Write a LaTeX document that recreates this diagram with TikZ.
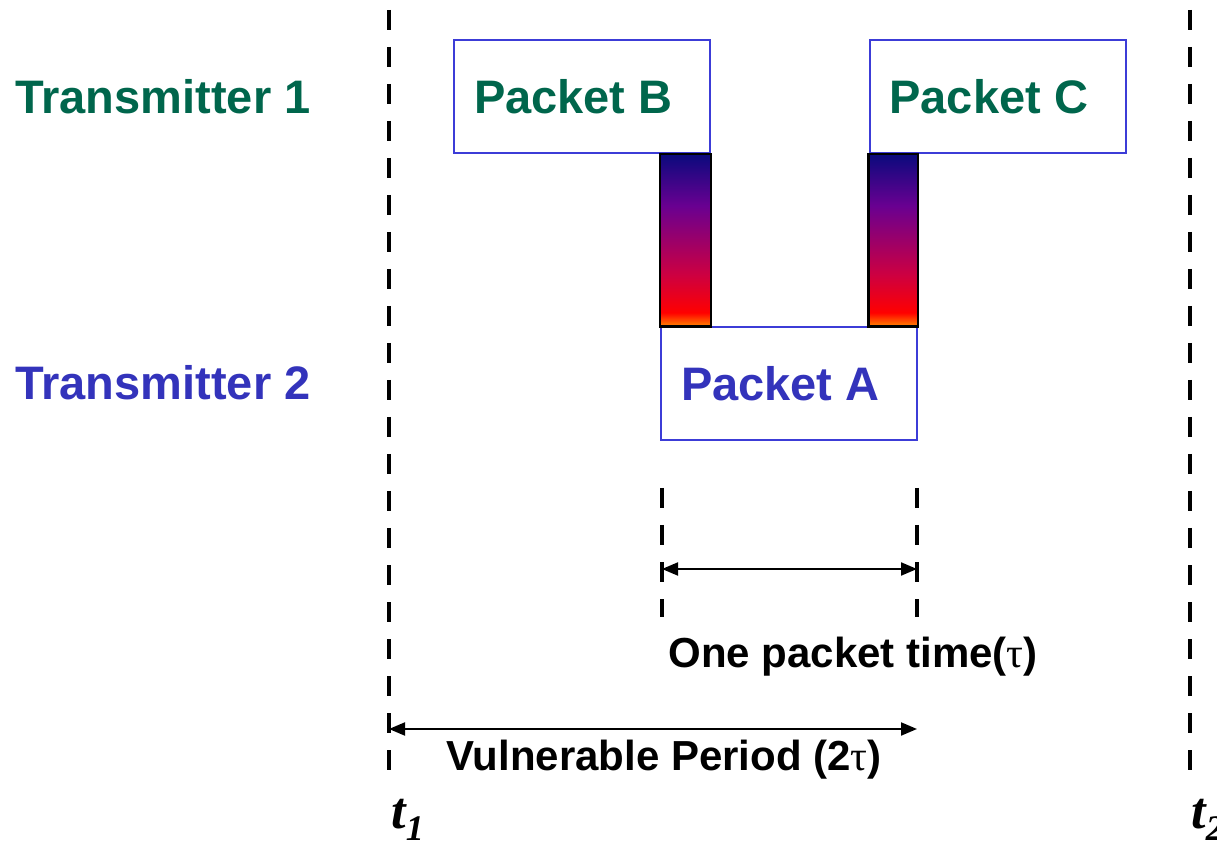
\documentclass[tikz,border=0pt]{standalone}
\usepackage{fontspec}
\setmainfont{Liberation Sans}
\newfontfamily\timesfont{Liberation Serif}
\usetikzlibrary{arrows.meta}
\definecolor{txgreen}{RGB}{0, 102, 76}
\definecolor{txblue}{RGB}{51, 51, 187}
\definecolor{boxblue}{RGB}{60, 60, 215}
\definecolor{barnavy}{RGB}{10, 10, 125}
\definecolor{barpurple}{RGB}{105, 0, 145}
\definecolor{barplum}{RGB}{155, 0, 105}
\definecolor{barcrimson}{RGB}{205, 0, 65}
\definecolor{barorange}{RGB}{255, 135, 0}
% collision bar: orange at the bottom, navy at the top
\pgfdeclareverticalshading{overlap}{100bp}{color(0bp)=(barorange); color(25bp)=(barorange); color(29bp)=(red); color(40bp)=(barcrimson); color(50bp)=(barplum); color(60bp)=(barpurple); color(75bp)=(barnavy); color(100bp)=(barnavy)}
\newcommand{\tauglyph}{{\timesfont\mdseries τ}}

\begin{document}
\begin{tikzpicture}[x=0.5pt, y=-0.5pt, font=\bfseries\fontsize{23.5}{28}\selectfont,
  packet/.style={draw=boxblue, line width=1pt, minimum height=56.5pt, text width=108pt, inner xsep=10pt, align=flush left},
  timeline/.style={line width=2.25pt, dash pattern=on 10pt off 8.5pt},
  spanarrow/.style={line width=1pt, {Triangle[length=8pt,width=6.5pt]}-{Triangle[length=8pt,width=6.5pt]}},
  note/.style={font=\bfseries\fontsize{21}{25}\selectfont},
  tmark/.style={font=\timesfont\bfseries\itshape\fontsize{26}{30}\selectfont, anchor=base west, inner sep=0pt}]
  \useasboundingbox (0,0) rectangle (1217,845);

  % transmitters
  \node[anchor=west, inner sep=0pt, txgreen] (tx1) at (15,97) {Transmitter 1};
  \node[anchor=west, inner sep=0pt, txblue] (tx2) at (15,383) {Transmitter 2};

  % packets
  \node[packet, text=txgreen] (pktB) at (582,96.5) {Packet B};
  \node[packet, text=txgreen] (pktC) at (997.5,96.5) {Packet C};
  \node[packet, text=txblue] (pktA) at (789,384) {Packet A};

  % overlapping parts
  \draw[shading=overlap, line width=1.2pt] (pktA.north west) rectangle (pktB.south east);
  \draw[shading=overlap, line width=1.2pt] (pktC.south west) rectangle (pktA.north east);

  % period limits
  \coordinate (t1top) at (389,10);
  \coordinate (t1bot) at (389,777);
  \coordinate (t2top) at (1190,10);
  \coordinate (t2bot) at (1190,777);
  \draw[timeline] (t1top) -- (t1bot);
  \draw[timeline] (t2top) -- (t2bot);
  \node[tmark] (t1) at (391,828) {t\raisebox{-6pt}{\fontsize{18}{18}\selectfont 1}};
  \node[tmark] (t2) at (1191,828) {t\raisebox{-6pt}{\fontsize{18}{18}\selectfont 2}};

  % one packet time
  \coordinate (pa1) at (662,488);
  \coordinate (pa2) at (662,617);
  \coordinate (pb1) at (917,488);
  \coordinate (pb2) at (917,617);
  \draw[timeline] (pa1) -- (pa2);
  \draw[timeline] (pb1) -- (pb2);
  \coordinate (onel) at (662,569);
  \coordinate (oner) at (917,569);
  \draw[spanarrow] (onel) -- (oner);
  \node[note] (onetxt) at (853,657) {One packet time(\tauglyph)};

  % vulnerable period
  \coordinate (vull) at (389,729);
  \coordinate (vulr) at (917,729);
  \draw[spanarrow] (vull) -- (vulr);
  \node[note] (vultxt) at (664,760) {Vulnerable Period (2\tauglyph)};
\end{tikzpicture}
\end{document}
